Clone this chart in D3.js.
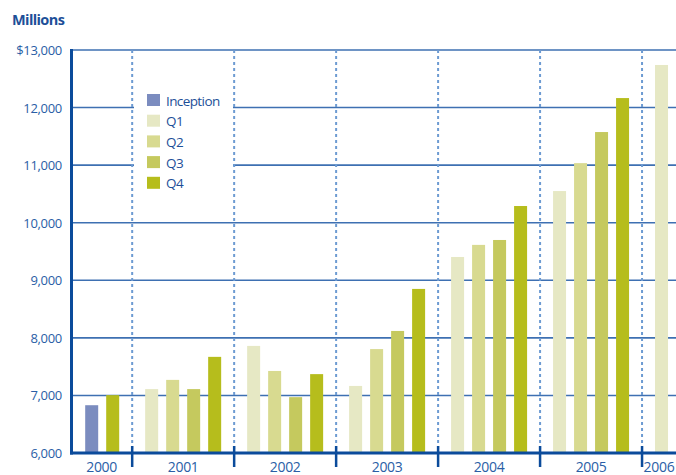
<!DOCTYPE html>
<html>
<head>
<meta charset="utf-8">
<script src="https://cdn.jsdelivr.net/npm/d3@7"></script>
<style>
  body { margin: 0; background: #fff; }
  svg text { font-family: "Open Sans", "Liberation Sans", sans-serif; }
</style>
</head>
<body>
<svg id="chart" width="676" height="475"></svg>
<script>
// values in $ millions, one entry per year 2000..2006 (null = no bar)
const years = [2000, 2001, 2002, 2003, 2004, 2005, 2006];
const seriesNames = ["Inception", "Q1", "Q2", "Q3", "Q4"];
const inception = [6830, null, null, null, null, null, null];
const q1 = [null, 7110, 7860, 7165, 9405, 10550, 12740];
const q2 = [null, 7270, 7425, 7805, 9615, 11035, null];
const q3 = [null, 7110, 6970, 8120, 9700, 11575, null];
const q4 = [7005, 7670, 7370, 8850, 10290, 12165, null];
const yTicks = [6000, 7000, 8000, 9000, 10000, 11000, 12000, 13000];

(function() {
    const svg = d3.select("#chart");
    const colors = {
        Inception: "#7b8cbf", Q1: "#e6e8c4", Q2: "#d8da90", Q3: "#c5c95e", Q4: "#b6bd1c"
    };
    // slot within a year (inception sits in the Q3 slot of 2000)
    const slot = { Inception: 3, Q1: 1, Q2: 2, Q3: 3, Q4: 4 };
    const seriesData = { Inception: inception, Q1: q1, Q2: q2, Q3: q3, Q4: q4 };

    const bars = [];
    seriesNames.forEach(name => {
        seriesData[name].forEach((v, i) => {
            if (v != null) bars.push({ name, year: years[i], value: v });
        });
    });

    const x = d3.scaleLinear().domain([2000.4, 2006.333]).range([71, 676]);
    const y = d3.scaleLinear().domain([6000, 13000]).range([453, 50]);
    const yearW = x(2002) - x(2001);
    const barW = 13;
    const slotCenter = (yr, s) => x(yr) + yearW / 2 + (s - 2.5) * 21;

    // horizontal grid
    svg.append("g").selectAll("line")
        .data(yTicks.slice(1))
        .join("line")
        .attr("x1", 71).attr("x2", 676)
        .attr("y1", d => y(d)).attr("y2", d => y(d))
        .attr("stroke", "#3e70b2")
        .attr("stroke-width", 1.6);

    // dashed year separators
    const seps = years.slice(1);
    svg.append("g").selectAll("line")
        .data(seps)
        .join("line")
        .attr("x1", d => x(d)).attr("x2", d => x(d))
        .attr("y1", y(13000)).attr("y2", y(6000))
        .attr("stroke", "#6d9bd2")
        .attr("stroke-width", 2)
        .attr("stroke-dasharray", "3,3");

    // legend
    const lg = svg.append("g");
    lg.append("rect")
        .attr("x", 134).attr("y", 84).attr("width", 99).attr("height", 112)
        .attr("fill", "#fff");
    const items = lg.selectAll("g.item")
        .data(seriesNames)
        .join("g")
        .attr("transform", (d, i) => `translate(147,${94 + i * 20.7})`);
    items.append("rect")
        .attr("width", 13).attr("height", 12)
        .attr("fill", d => colors[d]);
    items.append("text")
        .attr("x", 19).attr("y", 11.5)
        .attr("font-size", 13.5)
        .attr("letter-spacing", -0.6)
        .attr("fill", "#1d4f98")
        .text(d => d);

    // bars
    svg.append("g").selectAll("rect")
        .data(bars)
        .join("rect")
        .attr("x", d => slotCenter(d.year, slot[d.name]) - barW / 2)
        .attr("width", barW)
        .attr("y", d => y(d.value))
        .attr("height", d => y(6000) - y(d.value))
        .attr("fill", d => colors[d.name]);

    // y axis labels
    svg.append("g").selectAll("text")
        .data(yTicks)
        .join("text")
        .attr("x", 62)
        .attr("y", d => y(d) + 5)
        .attr("text-anchor", "end")
        .attr("font-size", 13)
        .attr("letter-spacing", -0.3)
        .attr("fill", "#2a5ea6")
        .text(d => (d === 13000 ? "$" : "") + d3.format(",")(d));

    // axis lines
    const axisCol = "#0b4b9b";
    svg.append("line")
        .attr("x1", 71.5).attr("x2", 71.5).attr("y1", 49).attr("y2", 454.5)
        .attr("stroke", axisCol).attr("stroke-width", 3);
    svg.append("line")
        .attr("x1", 70).attr("x2", 676).attr("y1", 453).attr("y2", 453)
        .attr("stroke", axisCol).attr("stroke-width", 3);
    svg.append("g").selectAll("line")
        .data(seps)
        .join("line")
        .attr("x1", d => x(d)).attr("x2", d => x(d))
        .attr("y1", 446).attr("y2", 467)
        .attr("stroke", axisCol).attr("stroke-width", 2.5);

    // year labels centred in each band
    svg.append("g").selectAll("text")
        .data(years)
        .join("text")
        .attr("x", d => {
            const a = Math.max(x(d), 71), b = Math.min(x(d + 1), 676);
            return (a + b) / 2;
        })
        .attr("y", 472)
        .attr("text-anchor", "middle")
        .attr("font-size", 14)
        .attr("letter-spacing", -0.3)
        .attr("fill", "#2a5ea6")
        .text(d => d);

    svg.append("text")
        .attr("x", 12).attr("y", 25)
        .attr("font-size", 14.5)
        .attr("font-weight", "bold")
        .attr("letter-spacing", -0.6)
        .attr("fill", "#1d4f98")
        .text("Millions");
})();
</script>
</body>
</html>
